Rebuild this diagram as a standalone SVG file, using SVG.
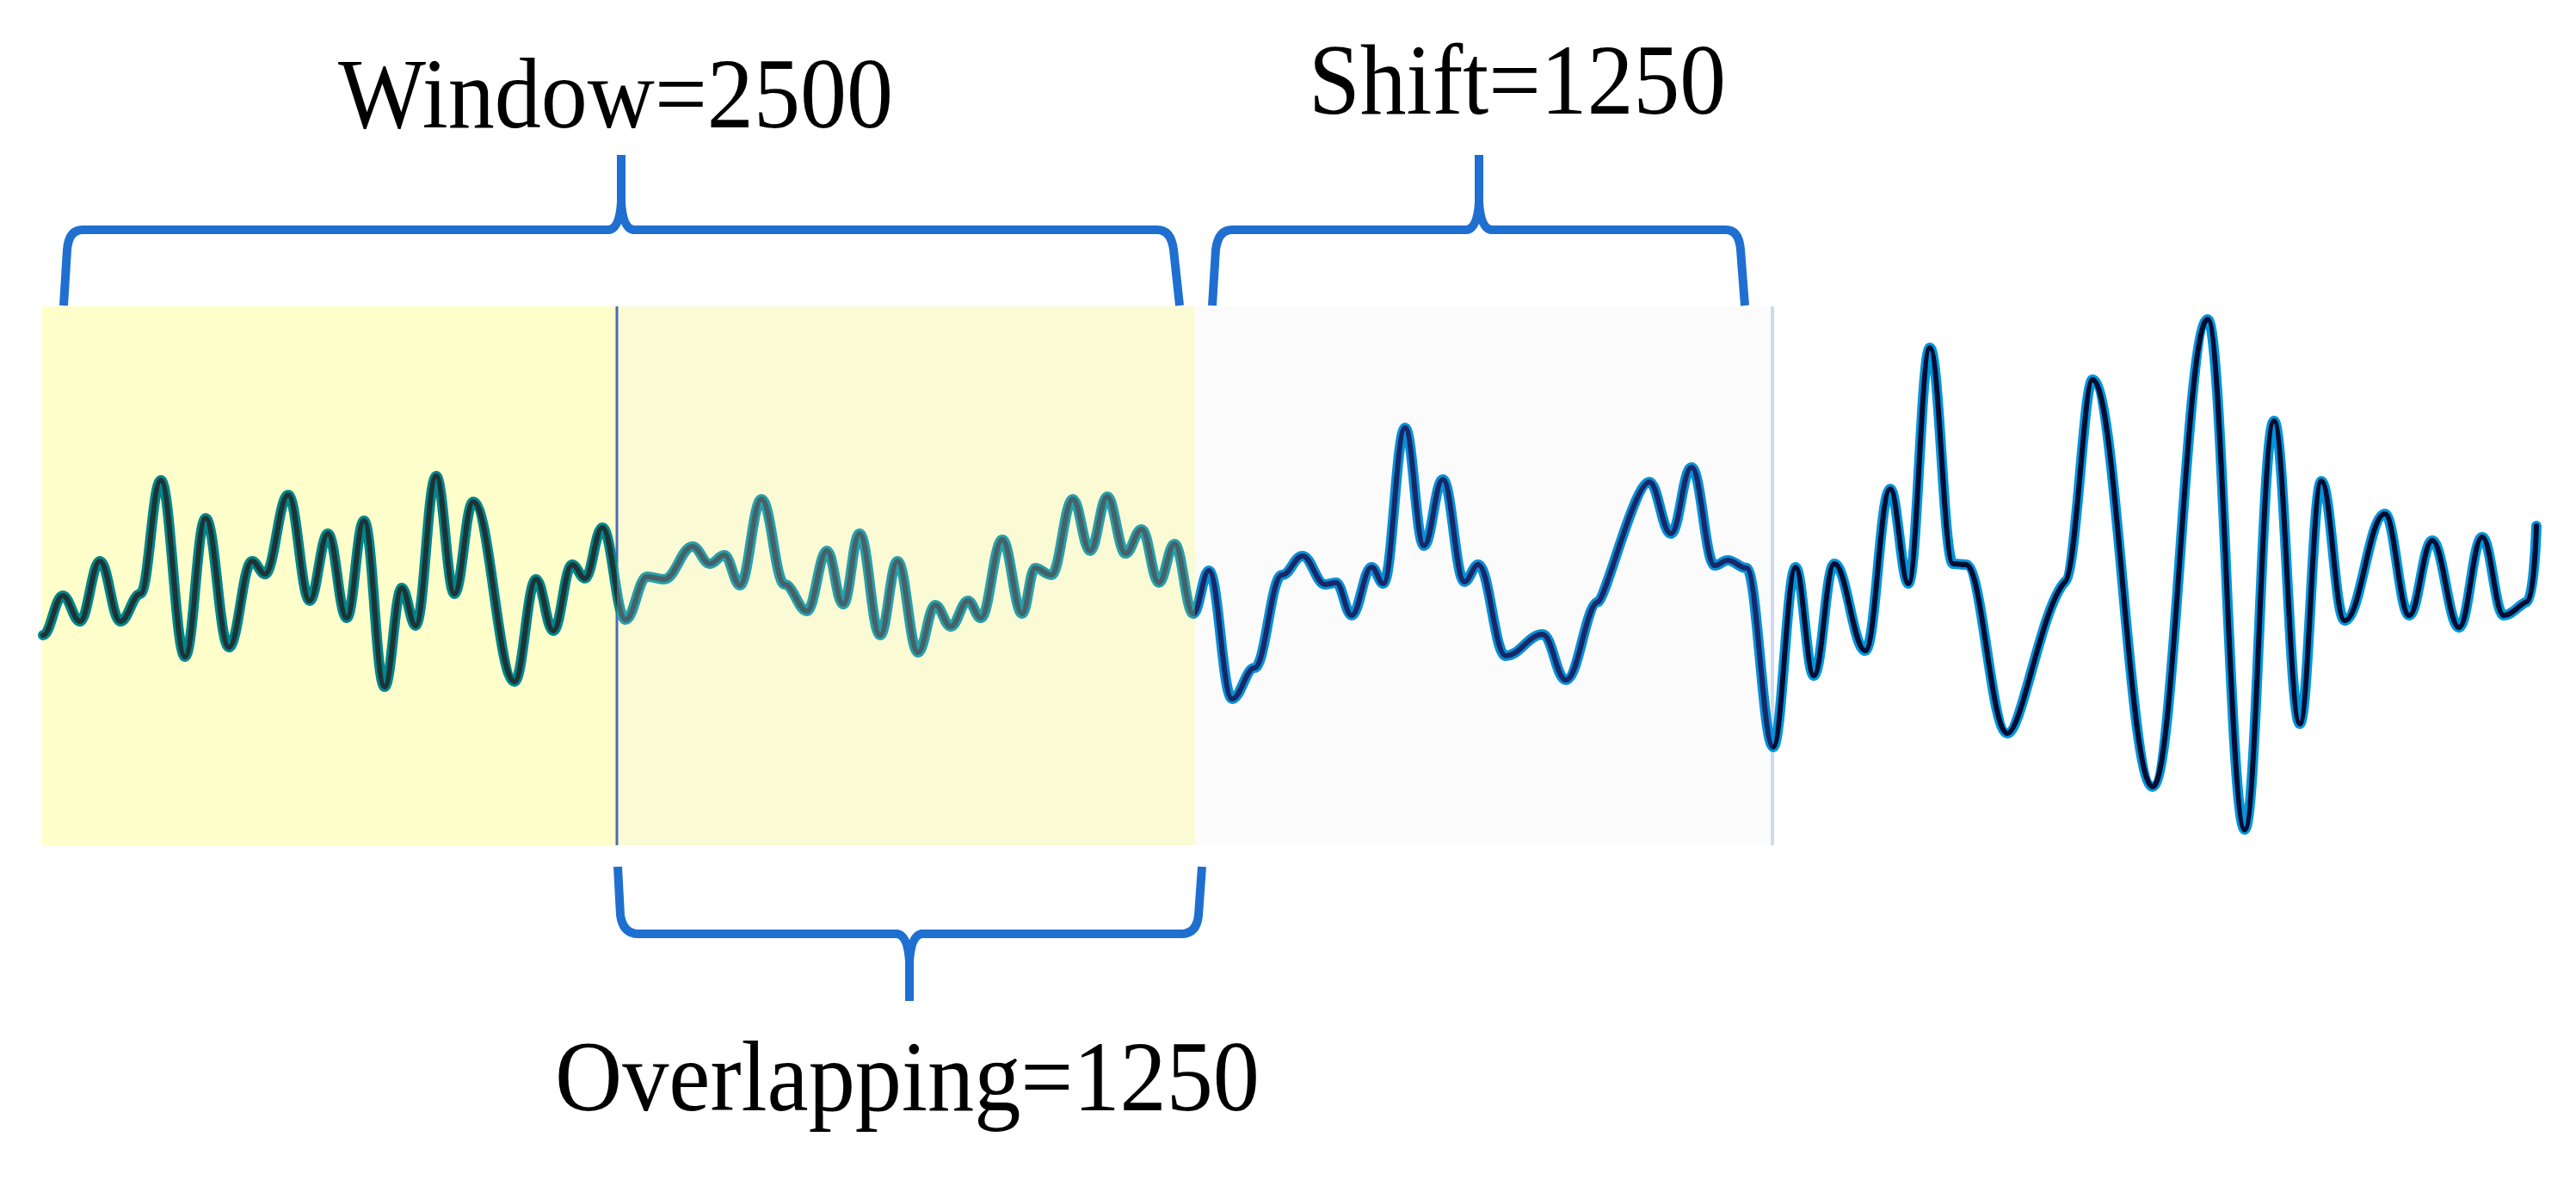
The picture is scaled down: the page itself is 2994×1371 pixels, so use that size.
<svg xmlns="http://www.w3.org/2000/svg" xmlns:xlink="http://www.w3.org/1999/xlink" width="2994" height="1371" viewBox="0 0 2994 1371">
<style>
.lbl{font-family:"Liberation Serif","Times New Roman",serif;font-size:117px;fill:#000}
.brace{fill:none;stroke:#1f6fd1;stroke-width:10;stroke-linejoin:round;stroke-linecap:butt}
.wo{fill:none;stroke-width:12;stroke-linejoin:round;stroke-linecap:round}
.wi{fill:none;stroke-width:6;stroke-linejoin:round;stroke-linecap:round}
</style>
<defs>
<clipPath id="cA"><rect x="0" y="0" width="717" height="1371"/></clipPath>
<clipPath id="cB"><rect x="717" y="0" width="672" height="1371"/></clipPath>
<clipPath id="cC"><rect x="1389" y="0" width="671" height="1371"/></clipPath>
<clipPath id="cD"><rect x="2060" y="0" width="934" height="1371"/></clipPath>
<path id="wave" d="M50,738 C59,738 64,692 73,692 C81,692 85,722 93,722 C102,722 107,652 116,652 C126,652 130,722 140,722 C149,722 154,690 163,690 C173,690 177,558 187,558 C198,558 204,763 215,763 C225,763 229,602 239,602 C250,602 255,752 266,752 C277,752 282,652 293,652 C299,652 302,667 308,667 C319,667 324,575 335,575 C345,575 350,698 360,698 C368,698 373,620 381,620 C390,620 394,718 403,718 C411,718 415,605 423,605 C433,605 437,798 447,798 C455,798 459,683 467,683 C473,683 477,727 483,727 C493,727 497,553 507,553 C515,553 520,690 528,690 C537,690 541,583 550,583 C569,583 579,792 598,792 C608,792 613,673 623,673 C631,673 635,733 643,733 C652,733 656,656 665,656 C671,656 674,672 680,672 C688,672 692,613 700,613 C711,613 716,720 727,720 C737,720 742,670 752,670 C760,670 764,673 772,673 C785,673 792,635 805,635 C813,635 817,655 825,655 C832,655 835,645 842,645 C849,645 853,680 860,680 C870,680 875,580 885,580 C896,580 901,679 912,679 C922,679 928,710 938,710 C947,710 952,640 961,640 C969,640 972,702 980,702 C988,702 991,620 999,620 C1009,620 1013,738 1023,738 C1031,738 1035,652 1043,652 C1053,652 1057,758 1067,758 C1075,758 1079,703 1087,703 C1094,703 1098,728 1105,728 C1113,728 1117,698 1125,698 C1131,698 1134,718 1140,718 C1150,718 1155,627 1165,627 C1174,627 1179,713 1188,713 C1194,713 1197,660 1203,660 C1211,660 1214,668 1222,668 C1232,668 1237,580 1247,580 C1255,580 1259,640 1267,640 C1275,640 1279,577 1287,577 C1295,577 1300,643 1308,643 C1316,643 1319,615 1327,615 C1335,615 1339,677 1347,677 C1354,677 1358,632 1365,632 C1374,632 1378,713 1387,713 C1394,713 1398,663 1405,663 C1416,663 1421,812 1432,812 C1442,812 1448,776 1458,776 C1471,776 1477,668 1490,668 C1500,668 1504,646 1514,646 C1524,646 1530,679 1540,679 C1545,679 1548,677 1553,677 C1560,677 1564,715 1571,715 C1580,715 1585,659 1594,659 C1600,659 1602,678 1608,678 C1618,678 1623,497 1633,497 C1642,497 1646,634 1655,634 C1664,634 1668,557 1677,557 C1687,557 1692,676 1702,676 C1708,676 1712,656 1718,656 C1731,656 1737,762 1750,762 C1767,762 1776,737 1793,737 C1804,737 1809,790 1820,790 C1835,790 1843,699 1858,699 C1868,690 1900,560 1917,560 C1927,560 1932,620 1942,620 C1952,620 1956,543 1966,543 C1977,543 1982,657 1993,657 C1999,657 2002,651 2008,651 C2017,651 2021,660 2030,660 C2042,660 2049,868 2061,868 C2071,868 2077,659 2087,659 C2095,659 2100,785 2108,785 C2118,785 2122,655 2132,655 C2146,655 2154,756 2168,756 C2180,756 2185,568 2197,568 C2205,568 2210,678 2218,678 C2228,678 2233,404 2243,404 C2254,404 2259,655 2270,655 C2276,655 2279,656 2285,656 C2304,656 2314,852 2333,852 C2350,852 2372,706 2400,676 C2413,670 2422,441 2432,441 C2460,441 2474,914 2502,914 C2528,914 2540,371 2566,371 C2583,371 2592,964 2609,964 C2623,964 2629,489 2643,489 C2655,489 2661,841 2673,841 C2683,841 2688,559 2698,559 C2709,559 2714,721 2725,721 C2744,721 2753,597 2772,597 C2783,597 2789,715 2800,715 C2811,715 2816,628 2827,628 C2839,628 2846,729 2858,729 C2869,729 2874,624 2885,624 C2895,624 2900,715 2910,715 C2920,715 2928,702 2937,699 C2944,696 2947,640 2948,611"/>
</defs>
<rect width="2994" height="1371" fill="#ffffff"/>
<g id="windows">
<rect id="window-first" x="48" y="356" width="669" height="626" fill="#ffffcc"/>
<rect id="window-overlap" x="717" y="356" width="672" height="626" fill="#fafad4"/>
<rect id="window-shift" x="1389" y="356" width="671" height="626" fill="#fbfbfc"/>
<line x1="717" y1="356" x2="717" y2="982" stroke="#4a6cb4" stroke-width="3"/>
<line x1="2060" y1="356" x2="2060" y2="982" stroke="#d0daee" stroke-width="4"/>
</g>
<g id="signal">
<g clip-path="url(#cA)"><use xlink:href="#wave" class="wo" stroke="#00868b"/><use xlink:href="#wave" class="wi" stroke="#1d3436"/></g>
<g clip-path="url(#cB)"><use xlink:href="#wave" class="wo" stroke="#27a0aa"/><use xlink:href="#wave" class="wi" stroke="#45626a"/></g>
<g clip-path="url(#cC)"><use xlink:href="#wave" class="wo" stroke="#0890d4"/><use xlink:href="#wave" class="wi" stroke="#17286a"/></g>
<g clip-path="url(#cD)"><use xlink:href="#wave" class="wo" stroke="#0096dc"/><use xlink:href="#wave" class="wi" stroke="#020d32"/></g>
</g>
<g id="connectors">
<path id="brace-window" class="brace" d="M74,355 L78,290 Q80,267 96,267 L708,267 Q720,265 722,235 L722,180 M722,235 Q724,265 736,267 L1345,267 Q1361,267 1364,290 L1371,355"/>
<path id="brace-shift" class="brace" d="M1409,355 L1413,290 Q1416,267 1432,267 L1705,267 Q1717,265 1719,235 L1719,180 M1719,235 Q1721,265 1733,267 L2006,267 Q2021,267 2023,290 L2028,355"/>
<path id="brace-overlap" class="brace" d="M718,1007 L721,1063 Q724,1085 742,1085 L1043,1085 Q1055,1087 1057,1117 L1057,1163 M1057,1117 Q1059,1087 1071,1085 L1373,1085 Q1391,1085 1393,1063 L1397,1007"/>
</g>
<g id="label-window"><text class="lbl" x="393" y="148" textLength="645" lengthAdjust="spacingAndGlyphs">Window=2500</text></g>
<g id="label-shift"><text class="lbl" x="1521" y="132" textLength="485" lengthAdjust="spacingAndGlyphs">Shift=1250</text></g>
<g id="label-overlap"><text class="lbl" x="645" y="1290" textLength="819" lengthAdjust="spacingAndGlyphs">Overlapping=1250</text></g>
</svg>
